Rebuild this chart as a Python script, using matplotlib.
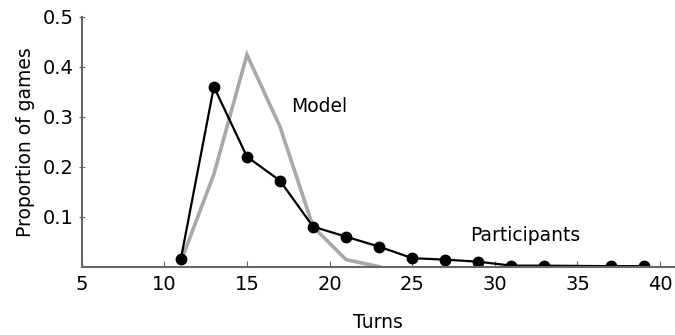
import matplotlib
matplotlib.use("Agg")
import matplotlib.pyplot as plt

# Turns vs proportion of games
part_turns = [11, 13, 15, 17, 19, 21, 23, 25, 27, 29, 31, 33, 37, 39]
part_props = [0.015, 0.36, 0.22, 0.172, 0.08, 0.06, 0.04, 0.017, 0.014, 0.01, 0.002, 0.002, 0.001, 0.001]

model_turns = [11, 13, 15, 17, 19, 21, 23]
model_props = [0.01, 0.185, 0.424, 0.28, 0.08, 0.014, 0.0]

x_ticks = [5, 10, 15, 20, 25, 30, 35, 40]
y_ticks = [0.1, 0.2, 0.3, 0.4, 0.5]

fig = plt.figure(figsize=(6.75, 3.35), dpi=100)
ax = fig.add_axes([0.121, 0.204, 0.879, 0.746])

ax.plot(model_turns, model_props, color="#a8a8a8", linewidth=2.6, solid_joinstyle="miter")
ax.plot(part_turns, part_props, color="black", linewidth=1.6, marker="o", markersize=7.5)

ax.text(17.7, 0.32, "Model", fontsize=13.5, va="center")
ax.text(28.5, 0.063, "Participants", fontsize=13.5, va="center")

ax.set_xlim(5, 40.9)
ax.set_ylim(0, 0.5)
ax.set_xticks(x_ticks)
ax.set_yticks(y_ticks)
ax.set_yticklabels([f"{v:.1f}" for v in y_ticks])
ax.tick_params(direction="inout", length=5, color="#666666", labelsize=14, pad=3)
ax.tick_params(axis="x", direction="in", length=4, pad=6)

for side in ["top", "right"]:
    ax.spines[side].set_visible(False)
for side in ["left", "bottom"]:
    ax.spines[side].set_color("#666666")
    ax.spines[side].set_linewidth(1.5)

ax.set_xlabel("Turns", fontsize=13.5, labelpad=14)
ax.set_ylabel("Proportion of games", fontsize=13.5, labelpad=6)

fig.savefig("out.png", dpi=100)
